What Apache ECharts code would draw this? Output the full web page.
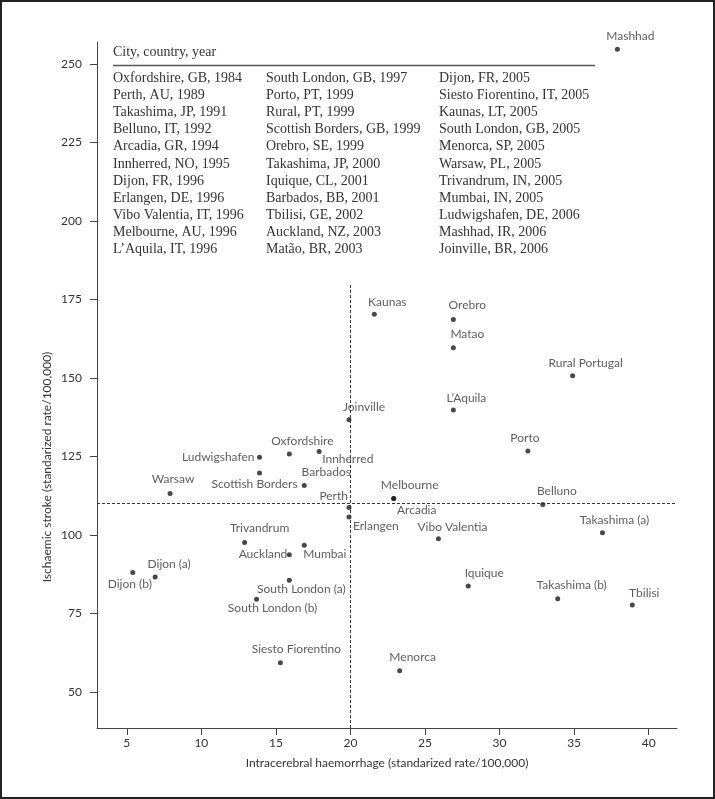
<!DOCTYPE html>
<html>
<head>
<meta charset="utf-8">
<script src="https://cdn.jsdelivr.net/npm/echarts@6/dist/echarts.min.js"></script>
<style>
  html, body { margin: 0; padding: 0; background: #fff; }
  #chart { width: 715px; height: 799px; }
</style>
</head>
<body>
<div id="chart"></div>
<script>
// study sites: intracerebral haemorrhage vs ischaemic stroke rates
const cities = [
  'Mashhad', 'Kaunas', 'Orebro', 'Matao', 'Rural Portugal', 'L\u2019Aquila',
  'Joinville', 'Porto', 'Innherred', 'Oxfordshire', 'Ludwigshafen',
  'Scottish Borders', 'Barbados', 'Warsaw', 'Melbourne', 'Arcadia', 'Belluno',
  'Perth', 'Erlangen', 'Takashima (a)', 'Vibo Valentia', 'Trivandrum', 'Mumbai',
  'Auckland', 'Dijon (b)', 'Dijon (a)', 'South London (a)', 'Iquique',
  'South London (b)', 'Takashima (b)', 'Tbilisi', 'Siesto Fiorentino', 'Menorca',
]
const haemorrhage = [
  37.9, 21.6, 26.9, 26.9, 34.9, 26.9,
  19.9, 31.9, 17.9, 15.9, 13.9,
  13.9, 16.9, 7.9, 22.9, 22.9, 32.9,
  19.9, 19.9, 36.9, 25.9, 12.9, 16.9,
  15.9, 5.4, 6.9, 15.9, 27.9,
  13.7, 33.9, 38.9, 15.3, 23.3,
]
const ischaemic = [
  254.7, 170.3, 168.6, 159.6, 150.7, 139.8,
  136.7, 126.7, 126.6, 125.8, 124.7,
  119.7, 115.7, 113.2, 111.6, 111.6, 109.7,
  108.7, 105.7, 100.7, 98.8, 97.6, 96.7,
  93.7, 88.0, 86.6, 85.6, 83.7,
  79.5, 79.7, 77.7, 59.3, 56.7,
]

const xTicks = [5, 10, 15, 20, 25, 30, 35, 40]
const yTicks = [50, 75, 100, 125, 150, 175, 200, 225, 250]

// cut-off lines (x = 20, y = 110)
const xCut = 20
const yCut = 110

const tableHeader = 'City, country, year'
const tableCol1 = [
  'Oxfordshire, GB, 1984', 'Perth, AU, 1989', 'Takashima, JP, 1991',
  'Belluno, IT, 1992', 'Arcadia, GR, 1994', 'Innherred, NO, 1995',
  'Dijon, FR, 1996', 'Erlangen, DE, 1996', 'Vibo Valentia, IT, 1996',
  'Melbourne, AU, 1996', 'L\u2019Aquila, IT, 1996',
]
const tableCol2 = [
  'South London, GB, 1997', 'Porto, PT, 1999', 'Rural, PT, 1999',
  'Scottish Borders, GB, 1999', 'Orebro, SE, 1999', 'Takashima, JP, 2000',
  'Iquique, CL, 2001', 'Barbados, BB, 2001', 'Tbilisi, GE, 2002',
  'Auckland, NZ, 2003', 'Mat\u00e3o, BR, 2003',
]
const tableCol3 = [
  'Dijon, FR, 2005', 'Siesto Fiorentino, IT, 2005', 'Kaunas, LT, 2005',
  'South London, GB, 2005', 'Menorca, SP, 2005', 'Warsaw, PL, 2005',
  'Trivandrum, IN, 2005', 'Mumbai, IN, 2005', 'Ludwigshafen, DE, 2006',
  'Mashhad, IR, 2006', 'Joinville, BR, 2006',
]

// label placement relative to the dot: [dx, dy, align]
const labelPlace = {
  'Mashhad': [13, -13, 'center'],
  'Kaunas': [13, -12, 'center'],
  'Orebro': [14, -14, 'center'],
  'Matao': [14, -14, 'center'],
  'Rural Portugal': [13, -13, 'center'],
  'L\u2019Aquila': [13, -12, 'center'],
  'Joinville': [15, -13, 'center'],
  'Porto': [-3, -13, 'center'],
  'Innherred': [3, 8, 'left'],
  'Oxfordshire': [13, -13, 'center'],
  'Ludwigshafen': [-5, 0, 'right'],
  'Scottish Borders': [-5, 11, 'center'],
  'Barbados': [22, -13, 'center'],
  'Warsaw': [3, -14, 'center'],
  'Melbourne': [16, -13, 'center'],
  'Arcadia': [23, 12, 'center'],
  'Belluno': [14, -13, 'center'],
  'Perth': [-1, -11, 'right'],
  'Erlangen': [4, 9, 'left'],
  'Takashima (a)': [12, -13, 'center'],
  'Vibo Valentia': [14, -12, 'center'],
  'Trivandrum': [15, -14, 'center'],
  'Mumbai': [-1, 9, 'left'],
  'Auckland': [-2, -1, 'right'],
  'Dijon (b)': [-3, 12, 'center'],
  'Dijon (a)': [14, -13, 'center'],
  'South London (a)': [12, 9, 'center'],
  'Iquique': [16, -13, 'center'],
  'South London (b)': [16, 9, 'center'],
  'Takashima (b)': [14, -14, 'center'],
  'Tbilisi': [12, -12, 'center'],
  'Siesto Fiorentino': [16, -14, 'center'],
  'Menorca': [13, -14, 'center'],
}

const labelFont = 'Lato, "Noto Sans", sans-serif'
const tableFont = '"Liberation Serif", "DejaVu Serif", serif'
const ink = '#333'

const xMin = 3, xMax = 41.9
const yMin = 38.5, yMax = 257

const points = cities.map((name, i) => {
  const p = labelPlace[name] || [0, -12, 'center']
  return {
    name,
    value: [haemorrhage[i], ischaemic[i]],
    label: { offset: [p[0], p[1]], align: p[2] },
  }
})

const axisCommon = {
  type: 'value',
  axisLine: { show: true, lineStyle: { color: '#444', width: 1 } },
  axisTick: { show: true, length: 7, lineStyle: { color: '#444' } },
  splitLine: { show: false },
}

const chart = echarts.init(document.getElementById('chart'))

const lineH = 17.13
const colTop = 78.3 - lineH / 2

chart.setOption({
  backgroundColor: '#fff',
  animation: false,
  grid: { left: 97, right: 38, top: 42, bottom: 71, containLabel: false },
  xAxis: {
    ...axisCommon,
    min: xMin,
    max: xMax,
    axisTick: { ...axisCommon.axisTick, customValues: xTicks },
    axisLabel: { customValues: xTicks, color: ink, fontFamily: labelFont, fontSize: 12, margin: 9 },
    name: 'Intracerebral haemorrhage (standarized rate/100,000)',
    nameLocation: 'middle',
    nameGap: 29,
    nameTextStyle: { color: ink, fontFamily: labelFont, fontSize: 12 },
  },
  yAxis: {
    ...axisCommon,
    min: yMin,
    max: yMax,
    axisTick: { ...axisCommon.axisTick, customValues: yTicks },
    axisLabel: { customValues: yTicks, color: ink, fontFamily: labelFont, fontSize: 12, margin: 15 },
  },
  series: [
    {
      type: 'scatter',
      data: points,
      symbol: 'circle',
      symbolSize: 5,
      itemStyle: { color: '#1a1a1a' },
      label: {
        show: true,
        position: 'inside',
        formatter: '{b}',
        color: ink,
        fontFamily: labelFont,
        fontSize: 12,
        verticalAlign: 'middle',
        textBorderWidth: 0,
      },
      emphasis: { disabled: true },
      markLine: {
        silent: true,
        symbol: 'none',
        label: { show: false },
        lineStyle: { color: '#333', width: 1, type: [3, 2] },
        data: [
          [{ coord: [xCut, yMin] }, { coord: [xCut, 180] }],
          [{ coord: [xMin, yCut] }, { coord: [xMax, yCut] }],
        ],
      },
    },
  ],
  graphic: [
    {
      type: 'rect',
      shape: { x: 1, y: 1, width: 713, height: 797 },
      style: { fill: 'none', stroke: '#222', lineWidth: 2 },
      silent: true,
    },
    {
      type: 'text',
      x: 47,
      y: 467,
      rotation: Math.PI / 2,
      style: {
        text: 'Ischaemic stroke (standarized rate/100,000)',
        align: 'center',
        verticalAlign: 'middle',
        fill: ink,
        font: '12px ' + labelFont,
      },
    },
    {
      type: 'text',
      x: 113,
      y: 52,
      style: { text: tableHeader, verticalAlign: 'middle', fill: ink, font: '14px ' + tableFont },
    },
    {
      type: 'line',
      shape: { x1: 113, y1: 65.5, x2: 595, y2: 65.5 },
      style: { stroke: '#555', lineWidth: 1.5 },
    },
    ...[[113, tableCol1], [266, tableCol2], [439, tableCol3]].map(([x, col]) => ({
      type: 'text',
      x,
      y: colTop,
      style: {
        text: col.join('\n'),
        verticalAlign: 'top',
        lineHeight: lineH,
        fill: ink,
        font: '14px ' + tableFont,
      },
    })),
  ],
})
</script>
</body>
</html>
